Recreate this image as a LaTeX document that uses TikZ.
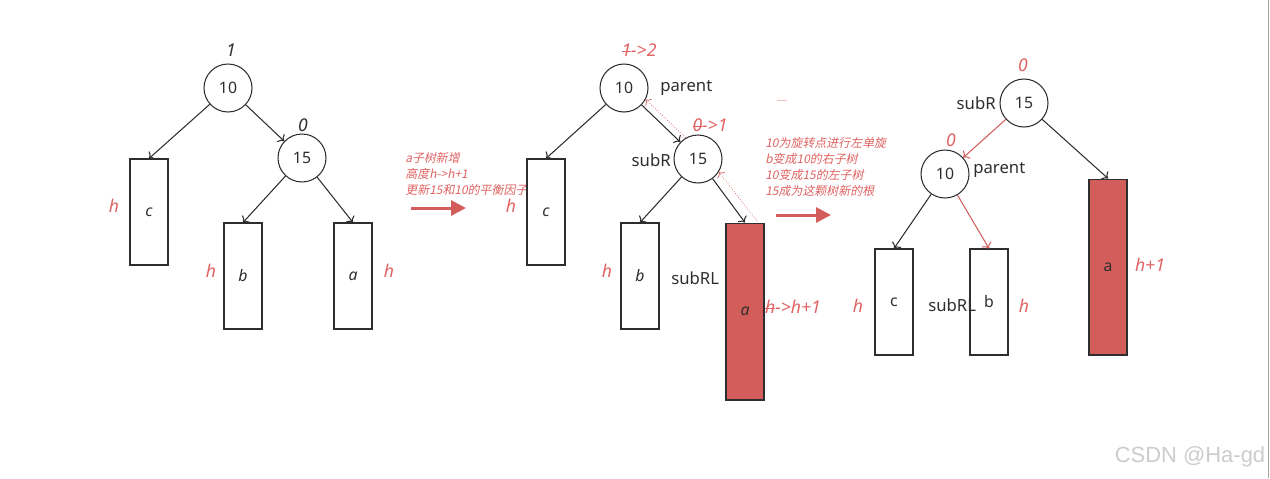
\documentclass[tikz,border=0pt]{standalone}
\usepackage{fontspec}
\setmainfont{Noto Sans}
\newfontfamily\cjk[FakeSlant=0.2]{Noto Sans CJK SC}
\newfontfamily\wmfont{Liberation Sans}
\usetikzlibrary{arrows.meta}
\definecolor{hred}{HTML}{D35D5A}
\definecolor{tred}{HTML}{E06262}
\definecolor{ink}{HTML}{2E2E2E}
\newcommand\strk[1]{\setbox0\hbox{#1}\rlap{\rule[0.5ex]{\wd0}{0.5pt}}\box0}
\begin{document}
\begin{tikzpicture}[x=0.02cm, y=-0.02cm, font=\fontsize{9}{11}\selectfont,
                    knot/.style={circle, draw=ink, semithick, minimum size=0.96cm, inner sep=0pt, text=ink},
                    tree/.style={rectangle, draw=ink, semithick, minimum width=0.76cm, minimum height=2.12cm, inner sep=0pt, text=ink},
                    grown/.style={tree, fill=hred},
                    edge/.style={->, semithick, ink},
                    redge/.style={->, semithick, hred},
                    dotedge/.style={->, hred, densely dotted},
                    hnote/.style={text=tred, font=\fontsize{10}{12}\selectfont\itshape},
                    bal/.style={text=ink, font=\fontsize{10}{12}\selectfont\itshape},
                    rbal/.style={text=tred, font=\fontsize{10}{12}\selectfont\itshape},
                    tag/.style={text=ink, inner sep=0pt, font=\fontsize{9.5}{11}\selectfont},
                    memo/.style={text=tred, align=left, anchor=west, inner sep=0pt, font=\cjk\fontsize{6.8}{9}\selectfont},
                    go/.style={-{Triangle[length=0.3cm,width=0.3cm]}, line width=0.06cm, hred}]
\useasboundingbox (0,0) rectangle (1270,478);
\draw[gray!70] (1268,0) -- (1268,478);
% before insertion
\node[knot] (a10) at (228,88) {10};
\node[knot] (a15) at (302,158) {15};
\node[tree] (ac) at (149,212) {\itshape c};
\node[tree] (ab) at (243,276) {\itshape b};
\node[tree] (aa) at (353,276) {\itshape a};
\node[bal] at (231,50) {1};
\node[bal] at (303,125) {0};
\node[hnote] at (114,206) {h};
\node[hnote] at (211,271) {h};
\node[hnote] at (389,271) {h};
\draw[edge] (a10) -- (ac.north);
\draw[edge] (a10) -- (a15);
\draw[edge] (a15) -- (ab.north);
\draw[edge] (a15) -- (aa.north);
\node[memo] (m1) at (405,174) {a子树新增\\高度h->h+1\\更新15和10的平衡因子};
\coordinate (g1s) at (411,208);
\coordinate (g1e) at (466,208);
\draw[go] (g1s) -- (g1e);
% after insertion
\node[knot] (b10) at (624,88) {10};
\node[knot] (b15) at (698,159) {15};
\node[tree] (bc) at (546,212) {\itshape c};
\node[tree] (bb) at (640,276) {\itshape b};
\node[grown, minimum height=3.54cm] (ba) at (745,311.5) {\itshape a};
\node[rbal] at (639,50) {\strk{1}->2};
\node[rbal] at (710,125) {\strk{0}->1};
\node[tag, anchor=west] at (660,88) {parent};
\node[tag, anchor=east] at (671,160) {subR};
\node[tag, anchor=west] at (671,278) {subRL};
\node[hnote] at (511,206) {h};
\node[hnote] at (607,271) {h};
\node[hnote] at (793,307) {\strk{h}->h+1};
\draw[edge] (b10) -- (bc.north);
\draw[edge] (b10) -- (b15);
\draw[edge] (b15) -- (bb.north);
\draw[edge] (b15) -- (ba.north);
\coordinate (da) at (757,221);
\draw[dotedge] (da) -- (b15.-32);
\draw[dotedge] (b15.120) -- (b10.-28);
\draw[hred!40] (777,100) -- (787,100);
\node[memo] (m2) at (765,167) {10为旋转点进行左单旋\\b变成10的右子树\\10变成15的左子树\\15成为这颗树新的根};
\coordinate (g2s) at (776,215);
\coordinate (g2e) at (831,215);
\draw[go] (g2s) -- (g2e);
% after left rotation
\node[knot] (c15) at (1024,103) {15};
\node[knot] (c10) at (945,174) {10};
\node[tree] (cc) at (894,302) {c};
\node[tree] (cb) at (989,302) {b};
\node[grown, minimum height=3.52cm] (ca) at (1108,267) {a};
\node[rbal] at (1023,65) {0};
\node[rbal] at (951,140) {0};
\node[tag, anchor=east] at (996,103) {subR};
\node[tag, anchor=west] at (973,170) {parent};
\node[tag, anchor=west] at (928,305) {subRL};
\node[hnote] at (858,306) {h};
\node[hnote] at (1024,306) {h};
\node[hnote] at (1150,265) {h+1};
\draw[redge] (c15) -- (c10);
\draw[edge] (c15) -- (ca.north);
\draw[edge] (c10) -- (cc.north);
\draw[redge] (c10) -- (cb.north);
\node[text=gray!40, font=\wmfont\fontsize{12.5}{14}\selectfont] (wm) at (1190,457) {CSDN @Ha-gd};
\end{tikzpicture}
\end{document}
